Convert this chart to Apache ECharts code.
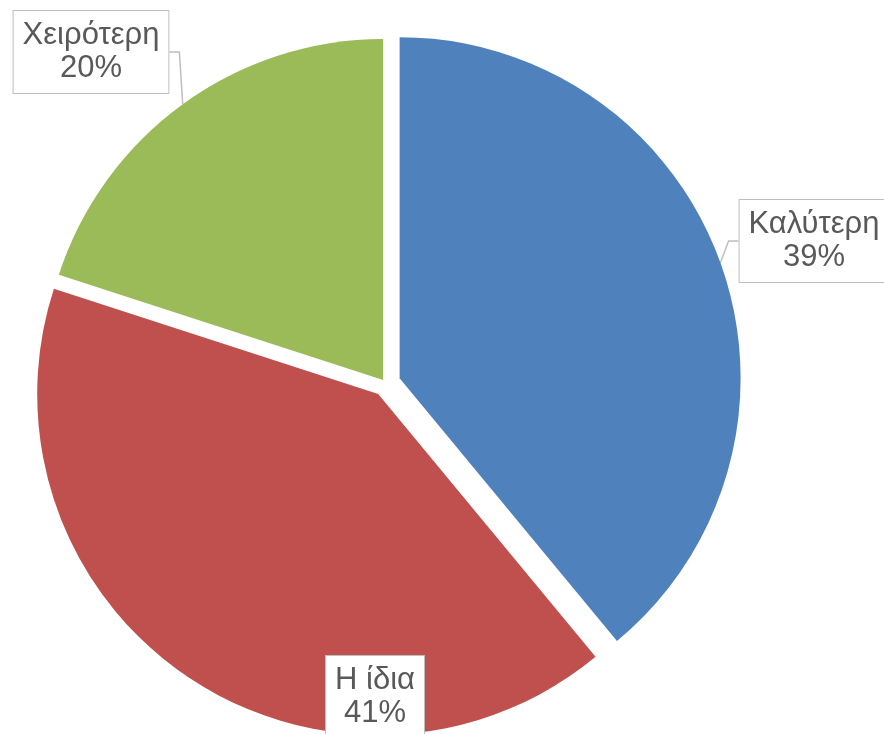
<!DOCTYPE html>
<html>
<head>
<meta charset="utf-8">
<script src="https://cdn.jsdelivr.net/npm/echarts@6/dist/echarts.min.js"></script>
<style>
  html, body { margin: 0; padding: 0; background: #fff; }
  #chart { width: 884px; height: 734px; }
</style>
</head>
<body>
<div id="chart"></div>
<script>
// values
const categories = ['Καλύτερη', 'Η ίδια', 'Χειρότερη']
const values = [39, 41, 20]
const colors = ['#4F81BD', '#C0504D', '#9BBB59']

// how far each slice is pulled out, and where its callout box sits (centre)
const explode = [15, 13, 4]
const labelSpots = [[814, 241], [375, 697], [91, 52]]

const cx = 385.5
const cy = 383.3

const chart = echarts.init(document.getElementById('chart'))

// one pie per slice so every slice can be pulled out on its own
// (selected items ignore labelLayout, so no selectedOffset here)
const total = values.reduce((a, b) => a + b, 0)
let acc = 0
const series = categories.map((name, i) => {
  const mid = (acc + values[i] / 2) / total * Math.PI * 2
  acc += values[i]
  const d = explode[i]
  return {
    type: 'pie',
    center: [cx + d * Math.sin(mid), cy - d * Math.cos(mid)],
    radius: 341,
    startAngle: 90,
    clockwise: true,
    avoidLabelOverlap: false,
    emphasis: { disabled: true },
    itemStyle: { borderWidth: 0 },
    data: categories.map((n, j) => ({
      name: n,
      value: values[j],
      itemStyle: { color: j === i ? colors[j] : 'transparent' },
      label: { show: j === i },
      labelLine: { show: j === i }
    })),
    label: {
      position: 'outside',
      formatter: p => p.name + '\n' + Math.round(p.percent) + '%',
      fontFamily: 'Liberation Sans, Arial, sans-serif',
      fontSize: 31,
      lineHeight: 33,
      color: '#595959',
      backgroundColor: '#fff',
      borderColor: '#bfbfbf',
      borderWidth: 1,
      padding: [15, 9, 1, 9]
    },
    labelLine: {
      length: 10,
      length2: 10,
      lineStyle: { color: '#bfbfbf', width: 1.5 }
    },
    labelLayout: function (params) {
      if (params.dataIndex !== i) return {}
      const s = labelSpots[i]
      return { x: s[0], y: s[1], align: 'center', verticalAlign: 'middle' }
    }
  }
})

chart.setOption({ series: series })
</script>
</body>
</html>
